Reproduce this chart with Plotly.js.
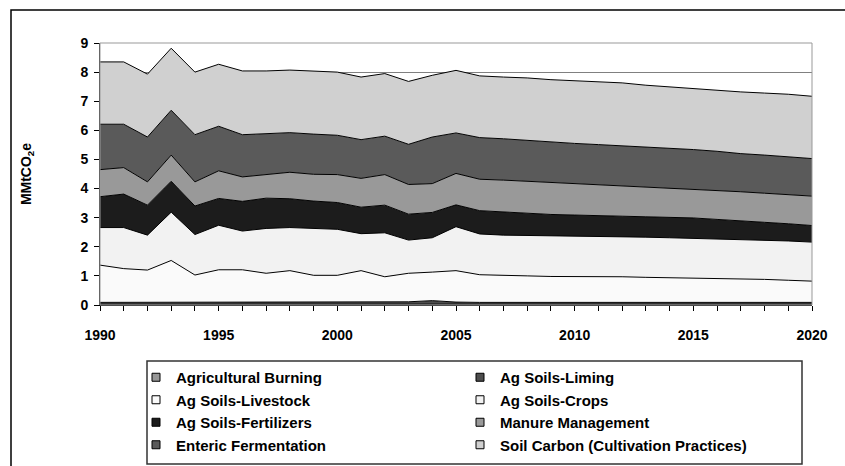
<!DOCTYPE html>
<html>
<head>
<meta charset="utf-8">
<script src="https://cdn.plot.ly/plotly-3.0.1.min.js"></script>
<style>html,body{margin:0;padding:0;background:#fff;}#chart{width:845px;height:466px;}</style>
</head>
<body>
<div id="chart"></div>
<script>
const years = [1990,1991,1992,1993,1994,1995,1996,1997,1998,1999,2000,2001,2002,2003,2004,2005,2006,2007,2008,2009,2010,2011,2012,2013,2014,2015,2016,2017,2018,2019,2020];
const xTickYears = [1990,1995,2000,2005,2010,2015,2020];

const agBurning = [0.03,0.03,0.03,0.03,0.03,0.03,0.03,0.03,0.03,0.03,0.03,0.03,0.03,0.03,0.03,0.03,0.03,0.03,0.03,0.03,0.03,0.03,0.03,0.03,0.03,0.03,0.03,0.03,0.03,0.03,0.03];
const agLiming = [0.06,0.06,0.06,0.06,0.06,0.06,0.06,0.06,0.06,0.06,0.06,0.06,0.06,0.08,0.12,0.07,0.06,0.06,0.06,0.06,0.06,0.06,0.06,0.06,0.06,0.06,0.06,0.06,0.06,0.06,0.06];
const agLivestock = [1.28,1.16,1.11,1.44,0.94,1.12,1.12,1.00,1.09,0.93,0.93,1.09,0.88,0.98,0.98,1.08,0.95,0.92,0.91,0.89,0.89,0.89,0.88,0.86,0.85,0.83,0.82,0.80,0.79,0.76,0.73];
const agCrops = [1.29,1.41,1.20,1.66,1.39,1.53,1.33,1.54,1.48,1.61,1.58,1.27,1.51,1.14,1.18,1.51,1.40,1.39,1.39,1.40,1.40,1.39,1.39,1.38,1.37,1.37,1.35,1.35,1.34,1.35,1.34];
const agFertilizers = [1.06,1.15,1.03,1.06,0.98,0.92,1.02,1.04,0.99,0.94,0.92,0.91,0.95,0.89,0.87,0.75,0.80,0.79,0.77,0.73,0.71,0.71,0.69,0.70,0.70,0.70,0.68,0.64,0.62,0.59,0.57];
const manure = [0.93,0.91,0.80,0.90,0.83,0.95,0.84,0.80,0.91,0.92,0.96,0.99,1.05,1.02,0.99,1.08,1.08,1.10,1.09,1.11,1.10,1.07,1.06,1.03,1.02,0.99,0.99,1.01,1.00,1.00,1.01];
const enteric = [1.56,1.49,1.54,1.54,1.62,1.53,1.45,1.42,1.36,1.38,1.35,1.33,1.32,1.38,1.60,1.39,1.43,1.42,1.40,1.38,1.36,1.36,1.36,1.36,1.36,1.36,1.35,1.31,1.31,1.30,1.29];
const soilCarbon = [2.14,2.14,2.16,2.13,2.15,2.13,2.19,2.15,2.15,2.17,2.17,2.15,2.15,2.16,2.12,2.15,2.12,2.12,2.15,2.14,2.15,2.16,2.16,2.13,2.10,2.09,2.10,2.12,2.13,2.15,2.14];

const seriesNames = ["Agricultural Burning","Ag Soils-Liming","Ag Soils-Livestock","Ag Soils-Crops","Ag Soils-Fertilizers","Manure Management","Enteric Fermentation","Soil Carbon (Cultivation Practices)"];
const seriesValues = [agBurning, agLiming, agLivestock, agCrops, agFertilizers, manure, enteric, soilCarbon];
const seriesColors = ["#969696","#4d4d4d","#fafafa","#f2f2f2","#1c1c1c","#999999","#5a5a5a","#d0d0d0"];

const FONT = "'Liberation Sans', Arial, sans-serif";

const traces = [];
seriesValues.forEach((vals, i) => {
  traces.push({
    type: "scatter", mode: "lines", x: years, y: vals, name: seriesNames[i],
    stackgroup: "one", fillcolor: seriesColors[i],
    line: {color: "#000", width: 1, shape: "linear"},
    showlegend: false, hoverinfo: "skip"
  });
});
seriesValues.forEach((vals, i) => {
  traces.push({
    type: "scatter", mode: "markers", x: [years[0]], y: [null], name: seriesNames[i],
    marker: {symbol: "square", size: 8, color: seriesColors[i], line: {color: "#000", width: 1}},
    showlegend: true, hoverinfo: "skip"
  });
});

const L = 100, R = 33, T = 43, B = 161, W = 845, H = 466;
const PW = W - L - R, PH = H - T - B;
const px = v => (v - L) / PW;
const py = v => (H - B - v) / PH;

const layout = {
  width: W, height: H,
  margin: {l: L, r: R, t: T, b: B, pad: 0, autoexpand: false},
  paper_bgcolor: "#fff", plot_bgcolor: "#fff",
  font: {family: FONT, size: 13, color: "#000", weight: "bold"},
  showlegend: true,
  xaxis: {
    range: [1990, 2020], tickvals: xTickYears, ticktext: xTickYears.map(String),
    ticks: "outside", ticklen: 5, tickcolor: "#000", tickwidth: 1,
    minor: {dtick: 1, tick0: 1990, ticks: "outside", ticklen: 5, tickcolor: "#000", showgrid: false},
    showgrid: false, zeroline: false, showline: true, linecolor: "#000", linewidth: 1,
    tickfont: {family: FONT, size: 14, color: "#000", weight: "bold"},
    ticklabelstandoff: 12, fixedrange: true, automargin: false
  },
  yaxis: {
    range: [0, 9], dtick: 1, tick0: 0,
    ticks: "outside", ticklen: 5, tickcolor: "#000",
    showgrid: true, gridcolor: "#808080", gridwidth: 1,
    zeroline: false, showline: true, linecolor: "#333", linewidth: 1,
    tickfont: {family: FONT, size: 14, color: "#000", weight: "bold"},
    ticklabelstandoff: 3,
    title: {text: "MMtCO<sub>2</sub>e", font: {family: FONT, size: 14, color: "#000", weight: "bold"}, standoff: 45},
    fixedrange: true, automargin: false
  },
  legend: {
    orientation: "h", x: px(136), y: py(361), xanchor: "left", yanchor: "top",
    borderwidth: 0, bgcolor: "rgba(0,0,0,0)",
    font: {family: FONT, size: 15, color: "#000", weight: "bold"},
    traceorder: "normal", entrywidth: 279, itemwidth: 30, valign: "middle"
  },
  shapes: [
    {type: "rect", xref: "paper", yref: "paper", x0: 0, x1: 1, y0: 0, y1: 1, line: {color: "#999", width: 1}, layer: "above"},
    {type: "rect", xref: "paper", yref: "paper", x0: px(147), x1: px(802), y0: py(464), y1: py(361), line: {color: "#333", width: 1.5}, fillcolor: "rgba(0,0,0,0)"},
    {type: "path", xref: "paper", yref: "paper",
     path: `M ${px(11)},${py(470)} L ${px(11)},${py(10)} L ${px(850)},${py(10)}`,
     line: {color: "#000", width: 1.5}}
  ]
};

Plotly.newPlot("chart", traces, layout, {displayModeBar: false, staticPlot: true});
</script>
</body>
</html>
